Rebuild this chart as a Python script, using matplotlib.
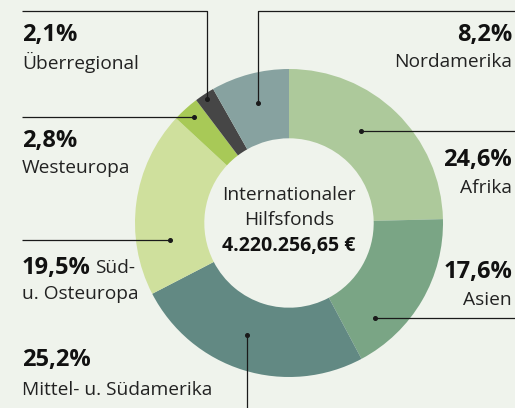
import matplotlib
matplotlib.use('Agg')
import matplotlib.pyplot as plt

# ---- data (clockwise from 12 o'clock) ----------------------------------------
regions = ['Afrika', 'Asien', 'Mittel- u. Südamerika', 'Süd- u. Osteuropa',
           'Westeuropa', 'Überregional', 'Nordamerika']
shares = [24.6, 17.6, 25.2, 19.5, 2.8, 2.1, 8.2]
share_labels = ['24,6%', '17,6%', '25,2%', '19,5%', '2,8%', '2,1%', '8,2%']
colors = ['#adc99b', '#7aa585', '#628983', '#cfe09d', '#a8c957', '#464646', '#87a2a0']
center_title = ['Internationaler', 'Hilfsfonds']
center_total = '4.220.256,65 €'

W, H = 515, 408
BG = '#eff3ec'
INK = '#1a1a1a'
plt.rcParams['font.family'] = ['Open Sans', 'DejaVu Sans']

fig = plt.figure(figsize=(W / 100, H / 100), dpi=100, facecolor=BG)
ax = fig.add_axes([0, 0, 1, 1])
ax.set_facecolor(BG)

Y = lambda y: H - y          # picture rows -> data y (up)
CX, CY, R = 289, Y(223), 154

ax.pie(shares, colors=colors, startangle=90, counterclock=False,
       center=(CX, CY), radius=R,
       wedgeprops=dict(width=R * 0.45, linewidth=0))
ax.set_xlim(0, W); ax.set_ylim(0, H); ax.set_aspect('equal'); ax.axis('off')

# ---- leader lines: (points in picture px), dot at the last point ---------------
def leader(pts):
    xs = [p[0] for p in pts]; ys = [Y(p[1]) for p in pts]
    ax.plot(xs, ys, color=INK, lw=0.9, solid_capstyle='butt')
    ax.plot(xs[-1], ys[-1], 'o', ms=2.6, color=INK)

leader([(22, 11), (207, 11), (207, 99)])        # Überregional
leader([(515, 11), (258, 11), (258, 103)])      # Nordamerika
leader([(515, 131), (361, 131)])                # Afrika
leader([(22, 117), (194, 117)])                 # Westeuropa
leader([(22, 240), (170, 240)])                 # Süd- u. Osteuropa
leader([(515, 318), (375, 318)])                # Asien
leader([(247, 408), (247, 335)])                # Mittel- u. Südamerika

NUM = dict(fontsize=17, fontweight='bold', color='#111', va='center')
LAB = dict(fontsize=13.8, color='#222', va='center')

ax.text(22, Y(35), share_labels[5], ha='left', **NUM)
ax.text(22, Y(62), regions[5], ha='left', **LAB)
ax.text(512, Y(35), share_labels[6], ha='right', **NUM)
ax.text(512, Y(62), regions[6], ha='right', **LAB)
ax.text(512, Y(160), share_labels[0], ha='right', **NUM)
ax.text(512, Y(188), regions[0], ha='right', **LAB)
ax.text(22, Y(141), share_labels[4], ha='left', **NUM)
ax.text(22, Y(168), regions[4], ha='left', **LAB)
t = ax.text(22, Y(268), share_labels[3], ha='left', **NUM)
fig.canvas.draw()
bb = t.get_window_extent().transformed(ax.transData.inverted())
ax.text(bb.x1 + 4, Y(268), 'Süd-', ha='left', **LAB)
ax.text(22, Y(294), 'u. Osteuropa', ha='left', **LAB)
ax.text(512, Y(272), share_labels[1], ha='right', **NUM)
ax.text(512, Y(300), regions[1], ha='right', **LAB)
ax.text(22, Y(360), share_labels[2], ha='left', **NUM)
ax.text(22, Y(390), regions[2], ha='left', **LAB)

# ---- centre ------------------------------------------------------------------
ax.text(CX, Y(195), center_title[0], ha='center', va='center', fontsize=13.8, color='#222')
ax.text(CX, Y(220), center_title[1], ha='center', va='center', fontsize=13.8, color='#222')
ax.text(CX, Y(246), center_total, ha='center', va='center', fontsize=14, fontweight='bold', color='#111')

fig.savefig('out.png', dpi=100, facecolor=BG)
